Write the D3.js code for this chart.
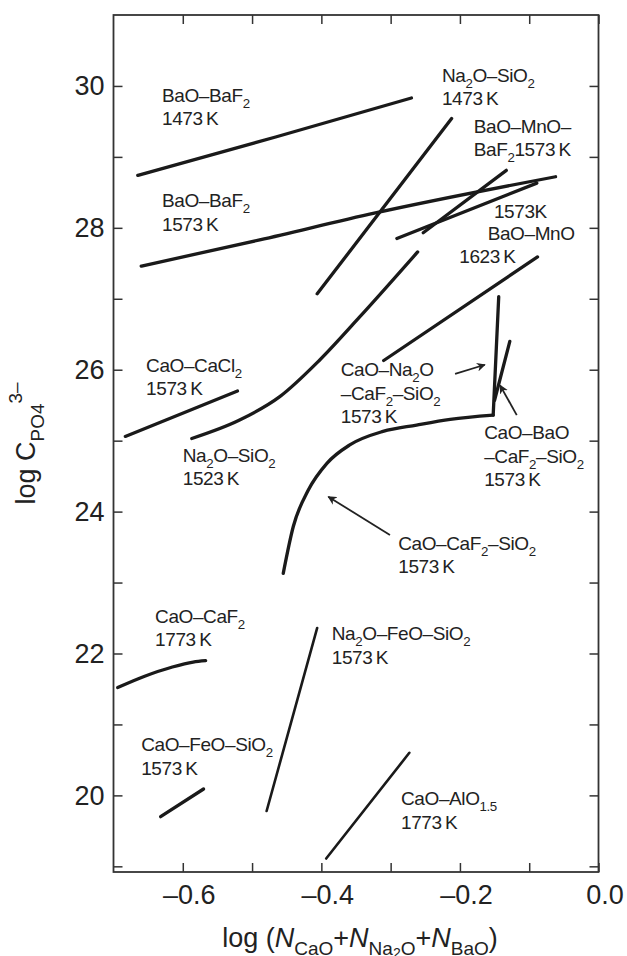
<!DOCTYPE html>
<html>
<head>
<meta charset="utf-8">
<script src="https://cdn.jsdelivr.net/npm/d3@7"></script>
<style>
  body { margin: 0; background: #fff; }
  text { font-family: 'Liberation Sans', Arial, sans-serif; fill: #222; }
  .curve { fill: none; stroke: #1a1a1a; stroke-linecap: round; stroke-linejoin: round; }
  .arrow { stroke: #222; stroke-width: 1.8; fill: none; }
  .tick line { stroke: #333; stroke-width: 1.5; }
  .domain { display: none; }
</style>
</head>
<body>
<svg width="627" height="956"></svg>
<script>
const svg = d3.select('svg');
const width  = +svg.attr('width');
const height = +svg.attr('height');

// axis ticks
const xTicks = [-0.6, -0.5, -0.4, -0.3, -0.2, -0.1, 0];
const xTickLabels = [-0.6, -0.4, -0.2, 0];
const yTicks = [19, 20, 21, 22, 23, 24, 25, 26, 27, 28, 29, 30];
const yTickLabels = [20, 22, 24, 26, 28, 30];

// curves: [log N, log C]
const baoBaf2_1473   = [[-0.665, 28.74], [-0.466, 29.28], [-0.270, 29.83]];
const baoBaf2_1573   = [[-0.660, 27.46], [-0.489, 27.83], [-0.322, 28.21], [-0.062, 28.72]];
const na2oSio2_1473  = [[-0.406, 27.07], [-0.212, 29.54]];
const baoMno_1573    = [[-0.291, 27.85], [-0.089, 28.63]];
const baoMnoBaf2_1573 = [[-0.253, 27.93], [-0.133, 28.81]];
const baoMno_1623    = [[-0.310, 26.13], [-0.088, 27.59]];
const na2oSio2_1523  = [[-0.587, 25.03], [-0.518, 25.29], [-0.460, 25.62], [-0.403, 26.13], [-0.345, 26.74], [-0.261, 27.66]];
const caoCacl2_1573  = [[-0.683, 25.06], [-0.521, 25.70]];
const caoCaf2Sio2_1573 = [[-0.455, 23.13], [-0.4405, 23.79], [-0.419, 24.30], [-0.392, 24.68], [-0.359, 24.94],
                          [-0.311, 25.13], [-0.2625, 25.22], [-0.214, 25.30], [-0.152, 25.36]];
const caoNa2oCaf2Sio2_1573 = [[-0.152, 25.36], [-0.144, 27.03]];
const caoBaoCaf2Sio2_1573  = [[-0.150, 25.57], [-0.128, 26.40]];
const caoCaf2_1773   = [[-0.694, 21.52], [-0.655, 21.68], [-0.615, 21.81], [-0.585, 21.88], [-0.567, 21.90]];
const caoFeoSio2_1573 = [[-0.632, 19.70], [-0.570, 20.09]];
const na2oFeoSio2_1573 = [[-0.479, 19.78], [-0.406, 22.36]];
const caoAlo15_1773  = [[-0.393, 19.11], [-0.273, 20.60]];

const curves = [baoBaf2_1473, baoBaf2_1573, na2oSio2_1473, baoMno_1573, baoMnoBaf2_1573, baoMno_1623,
  na2oSio2_1523, caoCacl2_1573, caoCaf2Sio2_1573, caoNa2oCaf2Sio2_1573, caoBaoCaf2Sio2_1573,
  caoCaf2_1773, caoFeoSio2_1573];
const thinCurves = [na2oFeoSio2_1573, caoAlo15_1773];

// pointer arrows: [from, to]
const arrows = [
  [[-0.207, 25.94], [-0.164, 26.07]],
  [[-0.118, 25.36], [-0.142, 25.78]],
  [[-0.301, 23.67], [-0.390, 24.21]]
];

// labels, anchored at the first baseline
const labels = [
  { x: -0.630, y: 29.78, lines: ['BaO–BaF_{2}', '1473\u2009K'] },
  { x: -0.630, y: 28.29, lines: ['BaO–BaF_{2}', '1573\u2009K'] },
  { x: -0.226, y: 30.06, lines: ['Na_{2}O–SiO_{2}', '1473\u2009K'] },
  { x: -0.180, y: 29.34, lines: ['BaO–MnO–', 'BaF_{2}1573\u2009K'] },
  { x: -0.151, y: 28.14, lines: ['1573K'] },
  { x: -0.160, y: 27.83, lines: ['BaO–MnO'] },
  { x: -0.201, y: 27.50, lines: ['1623\u2009K'] },
  { x: -0.653, y: 25.97, lines: ['CaO–CaCl_{2}', '1573\u2009K'] },
  { x: -0.600, y: 24.70, lines: ['Na_{2}O–SiO_{2}', '1523\u2009K'] },
  { x: -0.372, y: 25.91, lines: ['CaO–Na_{2}O', '–CaF_{2}–SiO_{2}', '1573\u2009K'] },
  { x: -0.165, y: 25.02, lines: ['CaO–BaO', '–CaF_{2}–SiO_{2}', '1573\u2009K'] },
  { x: -0.289, y: 23.46, lines: ['CaO–CaF_{2}–SiO_{2}', '1573\u2009K'] },
  { x: -0.640, y: 22.43, lines: ['CaO–CaF_{2}', '1773\u2009K'] },
  { x: -0.385, y: 22.19, lines: ['Na_{2}O–FeO–SiO_{2}', '1573\u2009K'] },
  { x: -0.660, y: 20.62, lines: ['CaO–FeO–SiO_{2}', '1573\u2009K'] },
  { x: -0.285, y: 19.86, lines: ['CaO–AlO_{1.5}', '1773\u2009K'] }
];

const margin = { top: 15, right: 28.5, bottom: 84, left: 113.5 };
const innerWidth = width - margin.left - margin.right;
const innerHeight = height - margin.top - margin.bottom;

const g = svg.append('g')
  .attr('transform', `translate(${margin.left},${margin.top})`);

const xScale = d3.scaleLinear().domain([-0.7, 0]).range([0, innerWidth]);
const yScale = d3.scaleLinear().domain([18.92, 31.0]).range([innerHeight, 0]);

const fmt = v => v === 0 ? '0.0' : d3.format('.1f')(v).replace('−', '–');

// axes, ticks pointing inwards
const tickLen = 9;
const xb = g.append('g').attr('transform', `translate(0,${innerHeight})`)
  .call(d3.axisBottom(xScale).tickValues(xTicks).tickSizeInner(-tickLen).tickSizeOuter(0)
    .tickFormat(d => xTickLabels.includes(d) ? fmt(d) : ''));
xb.selectAll('text').attr('y', 32).attr('dy', 0).attr('dx', 6).attr('font-size', 27);

g.append('g')
  .call(d3.axisTop(xScale).tickValues(xTicks).tickSizeInner(-tickLen).tickSizeOuter(0).tickFormat(''));

const yl = g.append('g')
  .call(d3.axisLeft(yScale).tickValues(yTicks).tickSizeInner(-tickLen).tickSizeOuter(0)
    .tickFormat(d => yTickLabels.includes(d) ? d : ''));
yl.selectAll('text').attr('x', -9).attr('font-size', 27);

g.append('g').attr('transform', `translate(${innerWidth},0)`)
  .call(d3.axisRight(yScale).tickValues(yTicks).tickSizeInner(-tickLen).tickSizeOuter(0).tickFormat(''));

g.selectAll('.tick text').style('fill', '#222').style('font-family', "'Liberation Sans', Arial, sans-serif");
g.selectAll('.tick text').filter(function () { return this.textContent === ''; }).remove();

// frame
g.append('rect')
  .attr('width', innerWidth).attr('height', innerHeight)
  .attr('fill', 'none').attr('stroke', '#333').attr('stroke-width', 1.8);

// curves
const line = d3.line()
  .x(d => xScale(d[0]))
  .y(d => yScale(d[1]))
  .curve(d3.curveMonotoneX);

g.selectAll('.thick').data(curves).enter()
  .append('path')
    .attr('class', 'curve')
    .attr('stroke-width', 3.3)
    .attr('d', line);

g.selectAll('.thin').data(thinCurves).enter()
  .append('path')
    .attr('class', 'curve')
    .attr('stroke-width', 2.6)
    .attr('d', line);

// arrows
svg.append('defs').append('marker')
  .attr('id', 'head')
  .attr('viewBox', '0 0 10 10')
  .attr('refX', 9).attr('refY', 5)
  .attr('markerWidth', 5).attr('markerHeight', 5)
  .attr('markerUnits', 'strokeWidth')
  .attr('orient', 'auto')
  .append('path').attr('d', 'M0,0 L10,5 L0,10 L3,5 Z').attr('fill', '#222');

g.selectAll('.arrow').data(arrows).enter()
  .append('line')
    .attr('class', 'arrow')
    .attr('x1', d => xScale(d[0][0])).attr('y1', d => yScale(d[0][1]))
    .attr('x2', d => xScale(d[1][0])).attr('y2', d => yScale(d[1][1]))
    .attr('marker-end', 'url(#head)');

// text with _{sub} and ^{sup}
function richText(sel, str, fs) {
  const parts = str.split(/(_\{[^}]*\}|\^\{[^}]*\})/).filter(s => s);
  let shift = 0;
  parts.forEach(p => {
    let t = p, target = 0, size = fs;
    if (p.startsWith('_{')) { t = p.slice(2, -1); target = fs * 0.32; size = fs * 0.7; }
    else if (p.startsWith('^{')) { t = p.slice(2, -1); target = -fs * 0.5; size = fs * 0.7; }
    sel.append('tspan').attr('font-size', size).attr('dy', target - shift).text(t);
    shift = target;
  });
}

const labelSize = 19;
const lineGap = 23.5;
labels.forEach(l => {
  l.lines.forEach((s, i) => {
    const t = g.append('text')
      .attr('x', xScale(l.x))
      .attr('y', yScale(l.y) + i * lineGap)
      .attr('font-size', labelSize)
      .attr('letter-spacing', -0.4);
    richText(t, s, labelSize);
  });
});

// axis titles
const xt = svg.append('text')
  .attr('x', margin.left + innerWidth / 2 + 4)
  .attr('y', 947)
  .attr('text-anchor', 'middle')
  .attr('font-size', 27);
xt.append('tspan').text('log (');
xt.append('tspan').attr('font-style', 'italic').text('N');
xt.append('tspan').attr('font-size', 19).attr('dy', 8).text('CaO');
xt.append('tspan').attr('dy', -8).text('+');
xt.append('tspan').attr('font-style', 'italic').text('N');
xt.append('tspan').attr('font-size', 19).attr('dy', 8).text('Na');
xt.append('tspan').attr('font-size', 14).attr('dy', 3).text('2');
xt.append('tspan').attr('font-size', 19).attr('dy', -3).text('O');
xt.append('tspan').attr('dy', -8).text('+');
xt.append('tspan').attr('font-style', 'italic').text('N');
xt.append('tspan').attr('font-size', 19).attr('dy', 8).text('BaO');
xt.append('tspan').attr('dy', -8).text(')');

const yt = svg.append('text')
  .attr('transform', `translate(35,${margin.top + innerHeight / 2}) rotate(-90)`)
  .attr('text-anchor', 'middle')
  .attr('font-size', 27);
richText(yt, 'log C_{PO4}^{3–}', 27);
</script>
</body>
</html>
